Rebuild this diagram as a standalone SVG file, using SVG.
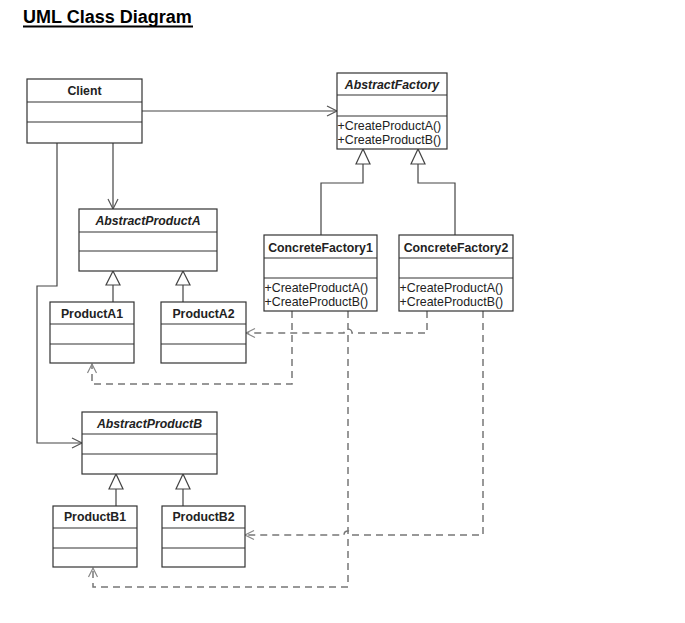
<svg xmlns="http://www.w3.org/2000/svg" width="685" height="623" viewBox="0 0 685 623">
<style>
.box{fill:#fff;stroke:#333;stroke-width:1.2}
.div{stroke:#333;stroke-width:1.2}
.t{font-family:"Liberation Sans",Arial,sans-serif;font-size:12.3px;font-weight:bold;fill:#222;text-anchor:middle}
.ti{font-style:italic}
.m{font-family:"Liberation Sans",Arial,sans-serif;font-size:12.4px;fill:#222}
.solid{fill:none;stroke:#444;stroke-width:1.2}
.dash{fill:none;stroke:#777;stroke-width:1.5;stroke-dasharray:7,5}
.tri{fill:#fff;stroke:#444;stroke-width:1.2}
</style>
<defs>
<marker id="open" markerUnits="userSpaceOnUse" markerWidth="14" markerHeight="14" refX="11" refY="6" orient="auto">
<path d="M1,1 L11,6 L1,11" fill="none" stroke="#555" stroke-width="1.2"/>
</marker>
<marker id="openg" markerUnits="userSpaceOnUse" markerWidth="14" markerHeight="14" refX="11" refY="6" orient="auto">
<path d="M2,1.5 L11,6 L2,10.5" fill="none" stroke="#888" stroke-width="1.2"/>
</marker>
</defs>
<rect width="685" height="623" fill="#fff"/>
<text x="23" y="23" font-family="'Liberation Sans',Arial,sans-serif" font-size="18" font-weight="bold" fill="#000">UML Class Diagram</text>
<rect x="23" y="25.5" width="170" height="2" fill="#000"/>

<g id="connectors">
<path class="solid" d="M142,111 H337" marker-end="url(#open)"/>
<path class="solid" d="M113,142 V209" marker-end="url(#open)"/>
<path class="solid" d="M57,142 V286 H37 V443 H82" marker-end="url(#open)"/>
<path class="solid" d="M113,285 V302"/>
<polygon class="tri" points="113,271 106,285 120,285"/>
<path class="solid" d="M183,285 V302"/>
<polygon class="tri" points="183,271 176,285 190,285"/>
<path class="solid" d="M116,489 V506"/>
<polygon class="tri" points="116,474 109,489 123,489"/>
<path class="solid" d="M183,489 V506"/>
<polygon class="tri" points="183,474 176,489 190,489"/>
<path class="solid" d="M363,164 V183 H321 V235"/>
<polygon class="tri" points="363,149 356,164 370,164"/>
<path class="solid" d="M418,164 V183 H455 V235"/>
<polygon class="tri" points="418,149 411,164 425,164"/>
<path class="dash" d="M427,311 V333 H352 a4,4 0 0 0 -8,0 H246" marker-end="url(#openg)"/>
<path class="dash" d="M292,311 V384 H92 V364" marker-end="url(#openg)"/>
<path class="dash" d="M348,311 V587 H93 V568" marker-end="url(#openg)"/>
<path class="dash" d="M483,311 V535 H352 a4,4 0 0 0 -8,0 H245" marker-end="url(#openg)"/>
</g>

<g id="client">
<rect class="box" x="27" y="79" width="115" height="64"/>
<line class="div" x1="27" y1="102" x2="142" y2="102"/>
<line class="div" x1="27" y1="122" x2="142" y2="122"/>
<text class="t" x="84.5" y="95">Client</text>
</g>

<g id="abstractFactory">
<rect class="box" x="337" y="73" width="110" height="76"/>
<line class="div" x1="337" y1="95" x2="447" y2="95"/>
<line class="div" x1="337" y1="116" x2="447" y2="116"/>
<text class="t ti" x="392" y="88.5">AbstractFactory</text>
<text class="m" x="337.5" y="129.5">+CreateProductA()</text>
<text class="m" x="337.5" y="144">+CreateProductB()</text>
</g>

<g id="concreteFactory1">
<rect class="box" x="264" y="235" width="113" height="76"/>
<line class="div" x1="264" y1="258" x2="377" y2="258"/>
<line class="div" x1="264" y1="278" x2="377" y2="278"/>
<text class="t" x="320.5" y="251.5">ConcreteFactory1</text>
<text class="m" x="264.5" y="291.5">+CreateProductA()</text>
<text class="m" x="264.5" y="305.5">+CreateProductB()</text>
</g>

<g id="concreteFactory2">
<rect class="box" x="399" y="235" width="114" height="76"/>
<line class="div" x1="399" y1="258" x2="513" y2="258"/>
<line class="div" x1="399" y1="278" x2="513" y2="278"/>
<text class="t" x="456" y="251.5">ConcreteFactory2</text>
<text class="m" x="399.5" y="291.5">+CreateProductA()</text>
<text class="m" x="399.5" y="305.5">+CreateProductB()</text>
</g>

<g id="abstractProductA">
<rect class="box" x="79" y="209" width="138" height="62"/>
<line class="div" x1="79" y1="232" x2="217" y2="232"/>
<line class="div" x1="79" y1="251" x2="217" y2="251"/>
<text class="t ti" x="148" y="225">AbstractProductA</text>
</g>

<g id="productA1">
<rect class="box" x="50" y="302" width="84" height="61"/>
<line class="div" x1="50" y1="324" x2="134" y2="324"/>
<line class="div" x1="50" y1="344" x2="134" y2="344"/>
<text class="t" x="92" y="317.5">ProductA1</text>
</g>

<g id="productA2">
<rect class="box" x="161" y="302" width="85" height="61"/>
<line class="div" x1="161" y1="324" x2="246" y2="324"/>
<line class="div" x1="161" y1="344" x2="246" y2="344"/>
<text class="t" x="203.5" y="317.5">ProductA2</text>
</g>

<g id="abstractProductB">
<rect class="box" x="82" y="412" width="135" height="62"/>
<line class="div" x1="82" y1="434" x2="217" y2="434"/>
<line class="div" x1="82" y1="454" x2="217" y2="454"/>
<text class="t ti" x="149.5" y="427.5">AbstractProductB</text>
</g>

<g id="productB1">
<rect class="box" x="53" y="506" width="84" height="61"/>
<line class="div" x1="53" y1="528" x2="137" y2="528"/>
<line class="div" x1="53" y1="548" x2="137" y2="548"/>
<text class="t" x="95" y="521">ProductB1</text>
</g>

<g id="productB2">
<rect class="box" x="162" y="506" width="83" height="61"/>
<line class="div" x1="162" y1="528" x2="245" y2="528"/>
<line class="div" x1="162" y1="548" x2="245" y2="548"/>
<text class="t" x="203.5" y="521">ProductB2</text>
</g>
</svg>
